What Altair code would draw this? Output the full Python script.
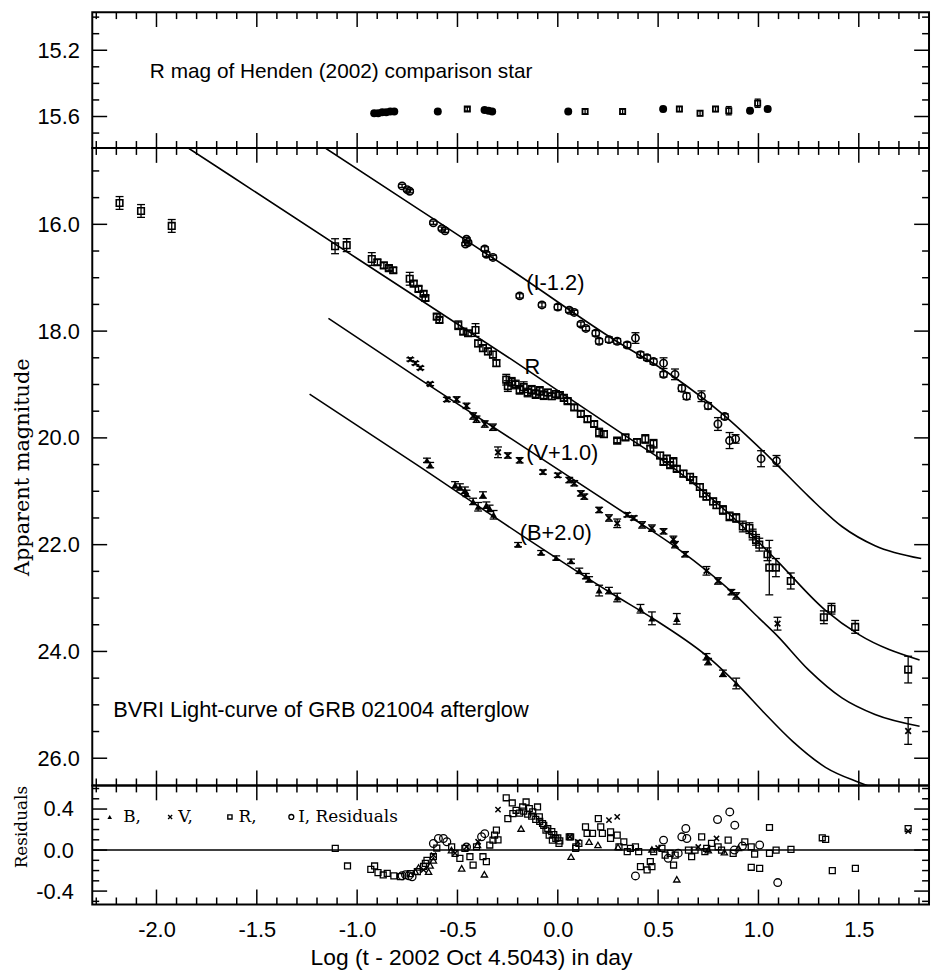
import altair as alt
import pandas as pd

# ---------------- data ----------------
# comparison star: (log t, R mag, err, marker kind: c = filled dot, s = open square)
COMP_STAR = [(-0.915, 15.58, 0.01, "c"), (-0.895, 15.58, 0.01, "c"), (-0.875, 15.575, 0.01, "c"),
             (-0.855, 15.575, 0.01, "c"), (-0.835, 15.57, 0.01, "c"), (-0.815, 15.57, 0.01, "c"),
             (-0.598, 15.57, 0.012, "c"), (-0.451, 15.555, 0.012, "s"), (-0.365, 15.56, 0.01, "c"),
             (-0.345, 15.565, 0.01, "c"), (-0.327, 15.57, 0.01, "c"), (0.052, 15.57, 0.012, "c"),
             (0.136, 15.57, 0.015, "s"), (0.323, 15.57, 0.015, "s"), (0.525, 15.555, 0.015, "c"),
             (0.606, 15.555, 0.015, "s"), (0.709, 15.58, 0.015, "s"), (0.786, 15.555, 0.015, "s"),
             (0.852, 15.565, 0.025, "s"), (0.958, 15.565, 0.015, "c"), (0.996, 15.52, 0.025, "s"),
             (1.046, 15.555, 0.015, "c")]

# R band: (log t, mag, err)
R_PTS = [(-2.184, 15.60, 0.12), (-2.077, 15.75, 0.12), (-1.924, 16.03, 0.12), (-1.110, 16.41, 0.14),
         (-1.052, 16.39, 0.12), (-0.927, 16.65, 0.12), (-0.899, 16.71, 0.05), (-0.867, 16.77, 0.05),
         (-0.842, 16.82, 0.05), (-0.820, 16.86, 0.05), (-0.738, 17.02, 0.12), (-0.718, 17.11, 0.05),
         (-0.694, 17.21, 0.05), (-0.669, 17.30, 0.05), (-0.660, 17.38, 0.05), (-0.603, 17.73, 0.05),
         (-0.590, 17.79, 0.05), (-0.496, 17.89, 0.08), (-0.471, 18.01, 0.05), (-0.447, 18.04, 0.05),
         (-0.410, 17.98, 0.12), (-0.397, 18.23, 0.06), (-0.373, 18.32, 0.06), (-0.348, 18.38, 0.06),
         (-0.323, 18.44, 0.06), (-0.306, 18.60, 0.06), (-0.257, 18.91, 0.10), (-0.249, 19.03, 0.10),
         (-0.230, 18.95, 0.08), (-0.210, 19.00, 0.08), (-0.190, 19.10, 0.08), (-0.170, 19.05, 0.10),
         (-0.150, 19.15, 0.08), (-0.130, 19.10, 0.08), (-0.110, 19.18, 0.08), (-0.090, 19.12, 0.08),
         (-0.070, 19.20, 0.08), (-0.050, 19.15, 0.06), (-0.030, 19.22, 0.06), (-0.010, 19.18, 0.06),
         (0.010, 19.20, 0.06), (0.030, 19.25, 0.06), (0.049, 19.31, 0.05), (0.082, 19.43, 0.05),
         (0.115, 19.55, 0.05), (0.148, 19.65, 0.05), (0.181, 19.74, 0.05), (0.206, 19.90, 0.08),
         (0.230, 19.93, 0.06), (0.296, 20.05, 0.04), (0.337, 19.99, 0.05), (0.395, 20.08, 0.06),
         (0.436, 20.02, 0.08), (0.477, 20.11, 0.08), (0.461, 20.20, 0.05), (0.510, 20.33, 0.06),
         (0.543, 20.39, 0.06), (0.576, 20.45, 0.08), (0.527, 20.45, 0.05), (0.560, 20.51, 0.05),
         (0.593, 20.58, 0.05), (0.626, 20.67, 0.06), (0.659, 20.73, 0.06), (0.675, 20.79, 0.06),
         (0.708, 20.92, 0.06), (0.724, 21.04, 0.06), (0.741, 21.10, 0.06), (0.774, 21.19, 0.06),
         (0.791, 21.26, 0.06), (0.823, 21.35, 0.08), (0.856, 21.47, 0.08), (0.889, 21.50, 0.08),
         (0.922, 21.66, 0.10), (0.955, 21.69, 0.10), (0.971, 21.81, 0.10), (0.988, 21.91, 0.10),
         (1.004, 22.00, 0.12), (1.045, 22.18, 0.12), (1.054, 22.43, 0.51), (1.087, 22.43, 0.17),
         (1.161, 22.68, 0.15), (1.326, 23.36, 0.12), (1.364, 23.20, 0.10), (1.482, 23.54, 0.12),
         (1.746, 24.34, 0.25)]

# I band (shifted by -1.2)
I_PTS = [(-0.776, 15.28, 0.03), (-0.751, 15.35, 0.03), (-0.738, 15.38, 0.03), (-0.620, 15.97, 0.03),
         (-0.578, 16.08, 0.03), (-0.562, 16.12, 0.03), (-0.455, 16.28, 0.03), (-0.447, 16.34, 0.03),
         (-0.460, 16.37, 0.03), (-0.364, 16.46, 0.04), (-0.356, 16.56, 0.04), (-0.323, 16.62, 0.04),
         (-0.190, 17.34, 0.04), (-0.079, 17.51, 0.04), (0.000, 17.55, 0.05), (0.057, 17.61, 0.04),
         (0.082, 17.65, 0.04), (0.115, 17.87, 0.04), (0.140, 17.95, 0.04), (0.189, 18.04, 0.05),
         (0.206, 18.19, 0.05), (0.255, 18.16, 0.05), (0.296, 18.19, 0.05), (0.346, 18.26, 0.05),
         (0.387, 18.13, 0.10), (0.412, 18.44, 0.05), (0.445, 18.50, 0.05), (0.477, 18.57, 0.05),
         (0.527, 18.60, 0.10), (0.527, 18.81, 0.05), (0.584, 18.81, 0.10), (0.618, 19.07, 0.06),
         (0.642, 19.22, 0.06), (0.716, 19.22, 0.10), (0.749, 19.40, 0.06), (0.798, 19.74, 0.12),
         (0.832, 19.60, 0.05), (0.856, 20.05, 0.15), (0.886, 20.02, 0.08), (1.013, 20.39, 0.15),
         (1.090, 20.43, 0.10)]

# V band (shifted by +1.0)
V_PTS = [(-0.735, 18.53, 0.03), (-0.710, 18.60, 0.03), (-0.685, 18.69, 0.03), (-0.636, 18.99, 0.03),
         (-0.553, 19.28, 0.04), (-0.504, 19.28, 0.05), (-0.455, 19.40, 0.05), (-0.422, 19.59, 0.06),
         (-0.405, 19.65, 0.06), (-0.364, 19.74, 0.06), (-0.323, 19.80, 0.06), (-0.298, 20.27, 0.10),
         (-0.249, 20.33, 0.05), (-0.190, 20.42, 0.05), (-0.074, 20.64, 0.04), (0.000, 20.70, 0.04),
         (0.057, 20.79, 0.05), (0.082, 20.85, 0.05), (0.115, 21.04, 0.05), (0.132, 21.10, 0.05),
         (0.206, 21.35, 0.05), (0.255, 21.50, 0.06), (0.296, 21.60, 0.08), (0.346, 21.44, 0.04),
         (0.379, 21.50, 0.04), (0.420, 21.63, 0.06), (0.469, 21.69, 0.06), (0.527, 21.75, 0.05),
         (0.576, 21.90, 0.06), (0.584, 22.00, 0.06), (0.634, 22.18, 0.05), (0.741, 22.49, 0.08),
         (0.798, 22.68, 0.06), (0.865, 22.89, 0.05), (0.889, 22.96, 0.06), (1.095, 23.48, 0.12),
         (1.746, 25.49, 0.25)]

# B band (shifted by +2.0)
B_PTS = [(-0.652, 20.42, 0.04), (-0.636, 20.51, 0.05), (-0.512, 20.88, 0.06), (-0.488, 20.92, 0.06),
         (-0.463, 20.98, 0.06), (-0.455, 21.04, 0.06), (-0.422, 21.19, 0.06), (-0.397, 21.29, 0.08),
         (-0.373, 21.07, 0.06), (-0.356, 21.26, 0.06), (-0.340, 21.32, 0.06), (-0.320, 21.44, 0.08),
         (-0.198, 22.00, 0.04), (-0.083, 22.15, 0.04), (-0.008, 22.25, 0.04), (0.066, 22.31, 0.04),
         (0.107, 22.49, 0.05), (0.140, 22.59, 0.05), (0.156, 22.65, 0.05), (0.206, 22.86, 0.10),
         (0.255, 22.86, 0.06), (0.296, 22.99, 0.08), (0.412, 23.20, 0.08), (0.469, 23.38, 0.12),
         (0.593, 23.39, 0.10), (0.741, 24.10, 0.06), (0.749, 24.19, 0.06), (0.823, 24.41, 0.06),
         (0.889, 24.60, 0.10)]

# model curves: (log t, mag)
I_MODEL = [(-1.155, 14.58), (-0.70, 15.70), (-0.231, 16.86), (0.263, 18.12), (0.576, 18.85), (0.823, 19.56),
           (1.070, 20.42), (1.251, 21.10), (1.416, 21.66), (1.581, 22.02), (1.811, 22.26)]
R_MODEL = [(-1.838, 14.58), (-1.0, 16.64), (-0.231, 18.53), (0.296, 19.86), (0.593, 20.61), (0.922, 21.66),
           (1.087, 22.28), (1.334, 23.23), (1.499, 23.68), (1.803, 24.16)]
V_MODEL = [(-1.143, 17.76), (-0.70, 18.87), (-0.231, 20.02), (0.346, 21.44), (0.593, 22.06), (0.889, 22.96),
           (1.004, 23.38), (1.087, 23.68), (1.251, 24.35), (1.416, 24.87), (1.581, 25.18), (1.803, 25.40)]
B_MODEL = [(-1.237, 19.18), (-0.70, 20.51), (-0.181, 21.82), (0.263, 22.90), (0.494, 23.43), (0.757, 24.13),
           (0.906, 24.66), (1.021, 25.12), (1.169, 25.68), (1.334, 26.17), (1.499, 26.45), (1.65, 26.65),
           (1.85, 26.82)]

# residuals: (log t, residual)
RES_B = [(-0.710, -0.21), (-0.694, -0.17), (-0.644, -0.21), (-0.636, -0.15), (-0.620, -0.10), (-0.530, 0.00),
         (-0.479, -0.178), (-0.400, 0.05), (-0.366, -0.236), (-0.183, 0.21), (0.066, -0.065), (0.156, 0.081),
         (0.200, 0.05), (0.300, 0.03), (0.469, 0.006), (0.593, -0.285), (0.750, 0.00), (0.830, -0.02),
         (0.900, 0.02)]
RES_V = [(-0.669, -0.194), (-0.620, -0.049), (-0.512, -0.03), (-0.455, 0.032), (-0.397, 0.081), (-0.298, 0.394),
         (0.060, 0.13), (0.100, 0.08), (0.255, 0.291), (0.296, 0.324), (0.500, 0.02), (0.700, 0.03),
         (0.791, 0.113), (1.746, 0.184)]
RES_R = [(-1.109, 0.016), (-1.048, -0.155), (-0.932, -0.188), (-0.913, -0.155), (-0.896, -0.22), (-0.870, -0.243),
         (-0.850, -0.227), (-0.817, -0.252), (-0.784, -0.259), (-0.735, -0.23), (-0.700, -0.21), (-0.669, -0.16),
         (-0.660, -0.13), (-0.652, -0.10), (-0.620, -0.065), (-0.603, 0.02), (-0.529, 0.032), (-0.512, -0.032),
         (-0.488, -0.081), (-0.463, 0.016), (-0.438, -0.065), (-0.422, -0.146), (-0.405, 0.032), (-0.373, -0.065),
         (-0.356, -0.113), (-0.339, 0.049), (-0.323, 0.097), (-0.315, 0.146), (-0.306, 0.194), (-0.298, 0.10),
         (-0.257, 0.51), (-0.227, 0.459), (-0.249, 0.307), (-0.224, 0.356), (-0.208, 0.388), (-0.190, 0.36),
         (-0.175, 0.42), (-0.170, 0.38), (-0.158, 0.469), (-0.150, 0.35), (-0.142, 0.404), (-0.130, 0.33),
         (-0.125, 0.372), (-0.110, 0.30), (-0.101, 0.42), (-0.092, 0.324), (-0.090, 0.28), (-0.076, 0.259),
         (-0.070, 0.24), (-0.059, 0.194), (-0.050, 0.21), (-0.043, 0.146), (-0.030, 0.18), (-0.027, 0.097),
         (-0.020, 0.15), (-0.010, 0.113), (0.000, 0.12), (0.006, 0.065), (0.010, 0.09), (0.057, 0.129),
         (0.064, 0.129), (0.089, 0.016), (0.090, 0.032), (0.105, 0.065), (0.138, 0.226), (0.146, 0.162),
         (0.173, 0.162), (0.202, 0.307), (0.214, 0.226), (0.222, 0.162), (0.263, 0.178), (0.263, 0.113),
         (0.296, 0.146), (0.305, 0.032), (0.329, 0.081), (0.346, -0.016), (0.362, 0.016), (0.387, 0.032),
         (0.403, -0.016), (0.412, -0.162), (0.445, -0.194), (0.461, -0.113), (0.469, -0.162), (0.478, -0.016),
         (0.519, 0.016), (0.535, -0.049), (0.560, -0.032), (0.577, -0.146), (0.585, -0.049), (0.651, 0.0),
         (0.667, -0.065), (0.684, 0.0), (0.717, 0.129), (0.733, -0.016), (0.742, 0.016), (0.766, 0.065),
         (0.799, 0.032), (0.816, 0.0), (0.849, 0.097), (0.874, -0.032), (0.932, 0.081), (0.964, 0.032),
         (0.981, -0.039), (0.964, -0.168), (1.006, -0.178), (1.055, 0.220), (1.055, -0.032), (1.088, 0.0),
         (1.162, 0.006), (1.318, 0.120), (1.335, 0.104), (1.368, -0.201), (1.483, -0.178), (1.746, 0.210)]
RES_I = [(-0.776, -0.25), (-0.759, -0.24), (-0.743, -0.25), (-0.726, -0.26), (-0.620, 0.064), (-0.595, 0.113),
         (-0.570, 0.113), (-0.553, 0.081), (-0.455, 0.03), (-0.380, 0.13), (-0.364, 0.16), (0.387, -0.252),
         (0.527, 0.097), (0.550, -0.08), (0.600, -0.03), (0.618, 0.129), (0.638, 0.210), (0.643, 0.113),
         (0.796, 0.298), (0.857, 0.372), (0.882, 0.243), (0.880, 0.0), (0.920, 0.04), (1.006, 0.049),
         (1.096, -0.317)]

# text annotations (log t, mag, text)
TOP_TEXT = [(-2.033, 15.37, "R mag of Henden (2002) comparison star")]
MAIN_TEXT = [(-0.157, 17.235, "(I-1.2)"), (-0.166, 18.81, "R"), (-0.157, 20.42, "(V+1.0)"),
             (-0.190, 21.905, "(B+2.0)"), (-2.216, 25.23, "BVRI Light-curve of GRB 021004 afterglow")]
LEGEND_SYMBOLS = [(-2.233, 0.323, "B"), (-1.932, 0.323, "V"), (-1.634, 0.323, "R"), (-1.328, 0.323, "I")]
LEGEND_TEXT = [(-2.166, 0.275, "B,"), (-1.891, 0.275, "V,"), (-1.591, 0.275, "R,"), (-1.294, 0.275, "I, Residuals")]

# axes / ticks
X_DOMAIN = [-2.32, 1.85]
TOP_DOMAIN = [14.97, 15.79]
MAIN_DOMAIN = [14.57, 26.51]
RES_DOMAIN = [-0.53, 0.63]
X_MAJOR = [-2.0, -1.5, -1.0, -0.5, 0.0, 0.5, 1.0, 1.5]
X_MINOR = [i / 10 for i in range(-23, 19) if i % 5 != 0]
TOP_MAJOR = [15.2, 15.6]
TOP_MINOR = [i / 10 for i in range(150, 158) if i not in (152, 156)]
MAIN_MAJOR = [16.0, 18.0, 20.0, 22.0, 24.0, 26.0]
MAIN_MINOR = [i / 2 for i in range(30, 53) if i % 4 != 0]
RES_MAJOR = [-0.4, 0.0, 0.4]
RES_MINOR = [i / 10 for i in range(-5, 7) if i % 4 != 0]

W, H_TOP, H_MAIN, H_RES = 844, 137, 643, 120
MAJ, MIN = 15, 7
LABEL_EXPR = "datum.value < 0 ? '-' + format(-datum.value, '.1f') : format(datum.value, '.1f')"
SANS = "Liberation Sans"
SERIF = "DejaVu Serif"

XS = alt.Scale(domain=X_DOMAIN, nice=False, zero=False)
S_TOP = alt.Scale(domain=TOP_DOMAIN, nice=False, zero=False, reverse=True)
S_MAIN = alt.Scale(domain=MAIN_DOMAIN, nice=False, zero=False, reverse=True)
S_RES = alt.Scale(domain=RES_DOMAIN, nice=False, zero=False)


def yaxis(values, title=None, pad=13, tpad=4, tsize=20, anchor=None):
    kw = dict(values=values, labelExpr=LABEL_EXPR, labelFont=SANS, labelFontSize=22, labelPadding=pad,
              ticks=False, tickSize=0, domain=False, grid=False, labelColor="black")
    if title:
        kw.update(title=title, titleFont=SERIF, titleFontSize=tsize, titleFontWeight="normal",
                  titlePadding=tpad, titleColor="black")
        if anchor:
            kw.update(titleAnchor=anchor)
    else:
        kw.update(title=None)
    return alt.Axis(**kw)


X_AXIS = alt.Axis(values=X_MAJOR, labelExpr=LABEL_EXPR, labelFont=SANS, labelFontSize=22, labelPadding=15,
                  ticks=False, tickSize=0, domain=False, grid=False, labelColor="black",
                  title="Log (t - 2002 Oct 4.5043) in day", titleFont=SANS, titleFontSize=23,
                  titleFontWeight="normal", titleColor="black", titleX=382, titleY=61,
                  titleAlign="center", titleBaseline="alphabetic")


def to_df(rows, cols):
    return pd.DataFrame(rows, columns=cols)


class Panel:
    """Holds the scales and axes of one panel so every layer uses the very same definitions."""

    def __init__(self, ys, yax, xax, h):
        self.ys, self.yax, self.xax, self.h = ys, yax, xax, h

    def X(self, f):
        return alt.X(f"{f}:Q", scale=XS, axis=self.xax)

    def Y(self, f):
        return alt.Y(f"{f}:Q", scale=self.ys, axis=self.yax)

    def ticks(self, ymaj, ymin):
        out = []
        for vals, L in ((X_MAJOR, MAJ), (X_MINOR, MIN)):
            b = alt.Chart(pd.DataFrame({"v": vals})).mark_rule(color="black", strokeWidth=1.5)
            out.append(b.encode(x=self.X("v"), y=alt.value(0), y2=alt.value(L)))
            out.append(b.encode(x=self.X("v"), y=alt.value(self.h), y2=alt.value(self.h - L)))
        for vals, L in ((ymaj, MAJ), (ymin, MIN)):
            b = alt.Chart(pd.DataFrame({"v": vals})).mark_rule(color="black", strokeWidth=1.5)
            out.append(b.encode(y=self.Y("v"), x=alt.value(0), x2=alt.value(L)))
            out.append(b.encode(y=self.Y("v"), x=alt.value(W), x2=alt.value(W - L)))
        return out

    def errs(self, df, cap=8, sw=1.3):
        df = df.copy()
        df["lo"] = df["m"] - df["e"]
        df["hi"] = df["m"] + df["e"]
        bar = alt.Chart(df).mark_rule(color="black", strokeWidth=sw).encode(
            x=self.X("x"), y=self.Y("lo"), y2="hi:Q")
        c1 = alt.Chart(df).mark_tick(orient="horizontal", size=cap, thickness=sw, color="black",
                                     opacity=1).encode(x=self.X("x"), y=self.Y("lo"))
        c2 = alt.Chart(df).mark_tick(orient="horizontal", size=cap, thickness=sw, color="black",
                                     opacity=1).encode(x=self.X("x"), y=self.Y("hi"))
        return [bar, c1, c2]

    def pts(self, df, ycol, shape, filled, size, sw=1.5):
        return alt.Chart(df).mark_point(shape=shape, filled=filled, size=size, strokeWidth=sw,
                                        color="black", opacity=1).encode(x=self.X("x"), y=self.Y(ycol))

    def text(self, df, ycol, font, size):
        return alt.Chart(df).mark_text(align="left", baseline="alphabetic", font=font, fontSize=size,
                                       color="black").encode(x=self.X("x"), y=self.Y(ycol), text="t:N")


XMARK = "M-1,-1L1,1M1,-1L-1,1"

# ---------------- top panel ----------------
P = Panel(S_TOP, yaxis(TOP_MAJOR), None, H_TOP)
comp = to_df(COMP_STAR, ["x", "m", "e", "k"])
top_layers = [P.pts(comp[comp.k == "c"], "m", "circle", True, 65, 1.0),
              P.pts(comp[comp.k == "s"], "m", "square", False, 28, 1.8)]
top_layers += P.errs(comp, cap=6)
top_layers.append(P.text(to_df(TOP_TEXT, ["x", "m", "t"]), "m", SANS, 21))
top_layers += P.ticks(TOP_MAJOR, TOP_MINOR)
top = alt.layer(*top_layers).properties(width=W, height=H_TOP)

# ---------------- main panel ----------------
P = Panel(S_MAIN, yaxis(MAIN_MAJOR, "Apparent magnitude", pad=13, tpad=5, tsize=21), None, H_MAIN)
main_layers = []
for rows in (I_MODEL, R_MODEL, V_MODEL, B_MODEL):
    main_layers.append(alt.Chart(to_df(rows, ["x", "m"])).mark_line(
        color="black", strokeWidth=1.6, interpolate="monotone", clip=True).encode(x=P.X("x"), y=P.Y("m")))
for rows in (R_PTS, I_PTS, V_PTS, B_PTS):
    main_layers += P.errs(to_df(rows, ["x", "m", "e"]))
main_layers += [
    P.pts(to_df(R_PTS, ["x", "m", "e"]), "m", "square", False, 44, 1.6),
    P.pts(to_df(I_PTS, ["x", "m", "e"]), "m", "circle", False, 55, 1.6),
    P.pts(to_df(V_PTS, ["x", "m", "e"]), "m", XMARK, False, 32, 1.8),
    P.pts(to_df(B_PTS, ["x", "m", "e"]), "m", "triangle-up", True, 50),
]
main_layers.append(P.text(to_df(MAIN_TEXT, ["x", "m", "t"]), "m", SANS, 22))
main_layers += P.ticks(MAIN_MAJOR, MAIN_MINOR)
main = alt.layer(*main_layers).properties(width=W, height=H_MAIN)

# ---------------- residual panel ----------------
P = Panel(S_RES, yaxis(RES_MAJOR, "Residuals", pad=19, tpad=5, tsize=17, anchor="end"), X_AXIS, H_RES)
res_layers = [alt.Chart(pd.DataFrame({"r": [0.0]})).mark_rule(color="black", strokeWidth=1.5).encode(
    y=P.Y("r")),
    P.pts(to_df(RES_R, ["x", "r"]), "r", "square", False, 36, 1.3),
    P.pts(to_df(RES_I, ["x", "r"]), "r", "circle", False, 60, 1.3),
    P.pts(to_df(RES_B, ["x", "r"]), "r", "triangle-up", False, 40, 1.3),
    P.pts(to_df(RES_V, ["x", "r"]), "r", XMARK, False, 28, 1.5)]
leg = to_df(LEGEND_SYMBOLS, ["x", "r", "band"])
for band, shape, filled, size in (("B", "triangle-up", True, 22), ("V", XMARK, False, 16),
                                  ("R", "square", False, 18), ("I", "circle", False, 24)):
    res_layers.append(P.pts(leg[leg.band == band], "r", shape, filled, size, 1.4))
res_layers.append(P.text(to_df(LEGEND_TEXT, ["x", "r", "t"]), "r", SERIF, 17))
res_layers += P.ticks(RES_MAJOR, RES_MINOR)
res = alt.layer(*res_layers).properties(width=W, height=H_RES)

chart = alt.vconcat(top, main, res, spacing=0, bounds="flush").properties(
    padding={"left": 2, "top": -2, "right": 0, "bottom": 0}
).configure_view(stroke="black", strokeWidth=2).configure_axis(grid=False)

chart.save("out.html", embed_options={"renderer": "svg", "actions": False})
